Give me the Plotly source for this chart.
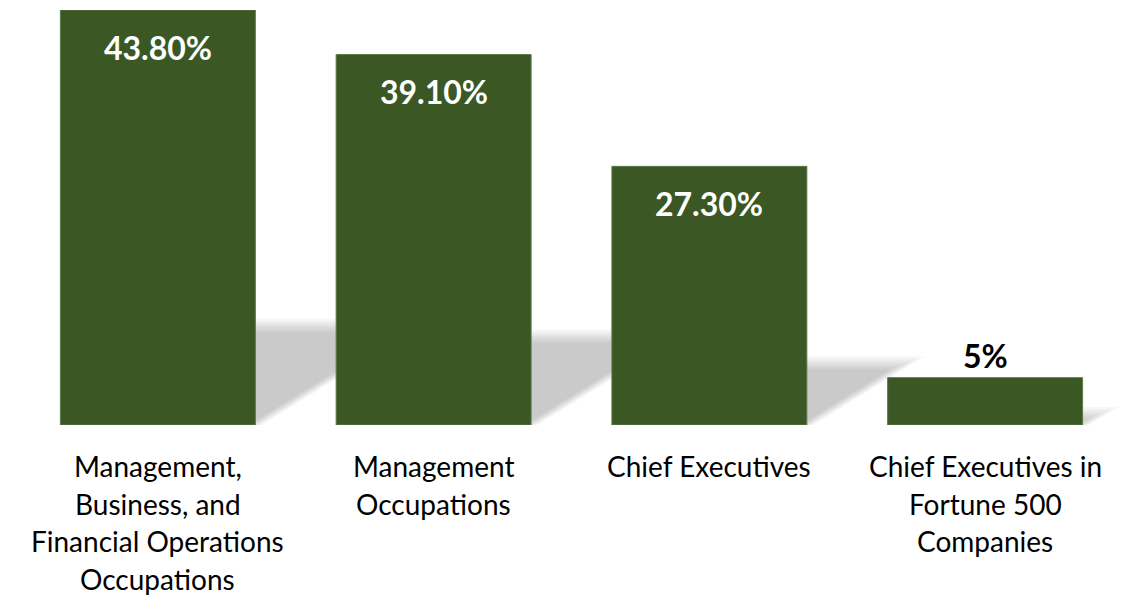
import plotly.graph_objects as go

# ---- data ----
categories = [
    "Management,<br>Business, and<br>Financial Operations<br>Occupations",
    "Management<br>Occupations",
    "Chief Executives",
    "Chief Executives in<br>Fortune 500<br>Companies",
]
values = [43.8, 39.1, 27.3, 5.0]
value_labels = ["43.80%", "39.10%", "27.30%", "5%"]

# ---- style ----
BAR_COLOR = "#3A5724"
PAGE_OFF = 8  # default body margin of the html page
W, H = 1132 - PAGE_OFF, 597 - PAGE_OFF
M_L, M_T = 11.5, 2
PLOT_W, PLOT_H = 1104, 415
M_R = W - M_L - PLOT_W
M_B = H - M_T - PLOT_H
BARGAP = 0.293
FONT = "Lato"

x = list(range(len(values)))
ymax = max(values)
px_per_cat = PLOT_W / len(values)
px_per_unit = PLOT_H / ymax
bw = 1 - BARGAP

fig = go.Figure()
fig.add_trace(go.Bar(
    x=x, y=values, width=bw,
    marker=dict(color=BAR_COLOR, line=dict(color="#5d7a48", width=1)),
    hoverinfo="skip",
))

# soft "cast" shadows behind bars, derived from bar geometry
shapes = []
for xi, v in zip(x, values):
    sh = 0.24 * v
    x0, x1 = xi - bw / 2, xi + bw / 2
    for k in range(7):
        grow = (3 - k) * 2.2  # px
        sk = sh + grow / px_per_unit
        dxk = 1.62 * sk * px_per_unit / px_per_cat
        x1k = x1 + grow / px_per_cat
        path = (f"M {x0},0 L {x1k},0 L {x1k + dxk},{sk} "
                f"L {x0 + dxk},{sk} Z")
        shapes.append(dict(type="path", path=path, xref="x", yref="y",
                           fillcolor="rgba(0,0,0,0.033)", line=dict(width=0),
                           layer="below"))

annotations = []
for xi, v, lab in zip(x, values, value_labels):
    inside = v > 10
    annotations.append(dict(
        x=xi, y=v, xref="x", yref="y", text=f"<b>{lab}</b>", showarrow=False,
        yshift=-37 if inside else 22, yanchor="middle",
        font=dict(family=FONT, size=32, color="white" if inside else "black"),
    ))

LINE_STEP = 37.6
for xi, cat in zip(x, categories):
    for j, line in enumerate(cat.split("<br>")):
        annotations.append(dict(
            x=xi, y=0, xref="x", yref="y", text=line, showarrow=False,
            yshift=-(41 + j * LINE_STEP), yanchor="middle",
            font=dict(family=FONT, size=28, color="black"),
        ))

fig.update_layout(
    width=W, height=H,
    margin=dict(l=M_L, r=M_R, t=M_T, b=M_B),
    paper_bgcolor="white", plot_bgcolor="white",
    showlegend=False,
    bargap=BARGAP,
    shapes=shapes,
    annotations=annotations,
    xaxis=dict(range=[-0.5, len(values) - 0.5], showticklabels=False,
               showgrid=False, zeroline=False, showline=False, ticks=""),
    yaxis=dict(range=[0, ymax], visible=False, showgrid=False, zeroline=False),
)

fig.write_html("out.html")
